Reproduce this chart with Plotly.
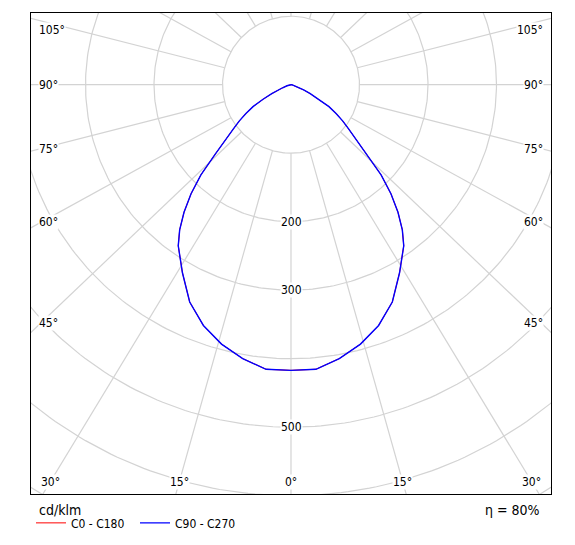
import numpy as np
import plotly.graph_objects as go

# luminous intensity distribution (symmetric luminaire)
gamma = [0, 5, 10, 15, 20, 25, 30, 35, 37.5, 40, 42.5, 45, 47.5, 50, 52.5,
         55, 57.5, 60, 62.5, 65, 67.5, 70, 75, 80, 85, 90]
c0_c180 = [417, 417, 406, 392, 374, 350, 317, 287, 267, 243, 216, 186, 150, 126, 106,
           92, 78, 64, 46, 31, 20, 13, 6, 2, 1, 0]
c90_c270 = [417, 417, 406, 392, 374, 350, 317, 287, 267, 243, 216, 186, 150, 126, 106,
            92, 78, 64, 46, 31, 20, 13, 6, 2, 1, 0]

ring_values = [100, 200, 300, 400, 500, 600, 700]
ring_labels = [200, 300, 500]
spoke_angles = list(range(0, 360, 15))
side_angle_labels = [105, 90, 75, 60, 45]
bottom_angle_labels = [30, 15, 0]
efficiency = "80%"
unit = "cd/klm"

FONT = "DejaVu Sans Condensed, Liberation Sans, sans-serif"
GRID = "rgb(211,211,211)"
XR = (-379.6, 379.6)
YR = (-597.5, 104.7)
KX = 1.05  # spokes are drawn a little wider than true angle in the original


def to_xy(angles_deg, values):
    # gamma 0 points down, positive angles to the right (C90), negative left (C270)
    a = np.radians(angles_deg)
    v = np.asarray(values, dtype=float)
    return v * np.sin(a), -v * np.cos(a)


def half_plane(values):
    ang = [-g for g in gamma[::-1]] + gamma[1:]
    val = list(values[::-1]) + list(values[1:])
    return to_xy(ang, val)


def spoke_dir(theta):
    t = np.radians(theta)
    phi = np.arctan2(KX * np.sin(t), np.cos(t))
    return np.sin(phi), -np.cos(phi)


# grid: rings + spokes starting at the innermost ring
gx, gy = [], []
t = np.linspace(0, 360, 361)
for r in ring_values:
    x, y = to_xy(t, [r] * len(t))
    gx += list(x) + [None]
    gy += list(y) + [None]
for a in spoke_angles:
    dx, dy = spoke_dir(a)
    gx += [ring_values[0] * dx, 1200 * dx, None]
    gy += [ring_values[0] * dy, 1200 * dy, None]

fig = go.Figure()
fig.add_trace(go.Scatter(x=gx, y=gy, mode="lines", line=dict(color=GRID, width=1.2),
                         hoverinfo="skip", showlegend=False))

# C0-C180 sits under the identical C90-C270 curve
x0, y0 = half_plane(c0_c180)
fig.add_trace(go.Scatter(x=x0, y=y0, mode="lines", name="C0 - C180",
                         line=dict(color="red", width=1.0)))
x1, y1 = half_plane(c90_c270)
fig.add_trace(go.Scatter(x=x1, y=y1, mode="lines", name="C90 - C270",
                         line=dict(color="blue", width=1.4)))

annotations = []
lab = dict(showarrow=False, bgcolor="white", borderpad=0,
           font=dict(family=FONT, size=12, color="black"))

for r in ring_labels:
    annotations.append(dict(x=0, y=-r, text=str(r), xanchor="center", yanchor="middle", **lab))

# angle labels on the left/right edges
for a in side_angle_labels:
    dx, dy = spoke_dir(a)
    y = -365 * (-dy / dx)
    y = min(y, 80)
    annotations.append(dict(x=-369, y=y, text=f"{a}°", xanchor="left", yanchor="middle", **lab))
    annotations.append(dict(x=369, y=y, text=f"{a}°", xanchor="right", yanchor="middle", **lab))

# angle labels along the bottom edge
for a in bottom_angle_labels:
    dx, dy = spoke_dir(a)
    x = 580 * dx / -dy
    for sx in ([1] if a == 0 else [-1, 1]):
        annotations.append(dict(x=sx * x, y=-580, text=f"{a}°", xanchor="center",
                                yanchor="middle", **lab))

annotations.append(dict(xref="paper", yref="paper", x=0.011, y=-0.033, text=unit,
                        showarrow=False, xanchor="left", yanchor="middle",
                        font=dict(family=FONT, size=14, color="black")))
annotations.append(dict(xref="paper", yref="paper", x=0.983, y=-0.033,
                        text=f"η = {efficiency}", showarrow=False, xanchor="right",
                        yanchor="middle", font=dict(family=FONT, size=14, color="black")))

axis = dict(showgrid=False, zeroline=False, showticklabels=False, ticks="",
            showline=True, mirror=True, linecolor="black", linewidth=1)

# page body keeps its default 8px margin, so the figure is 16px smaller
fig.update_layout(
    width=559, height=529,
    margin=dict(l=23, r=16, t=5, b=43, autoexpand=False),
    paper_bgcolor="white", plot_bgcolor="white",
    xaxis=dict(range=list(XR), **axis),
    yaxis=dict(range=list(YR), **axis),
    annotations=annotations,
    showlegend=True,
    legend=dict(orientation="h", x=0, y=-0.06, xanchor="left", yanchor="middle",
                font=dict(family=FONT, size=12, color="black"),
                bgcolor="rgba(0,0,0,0)", entrywidth=59, itemwidth=30),
)

fig.write_html("out.html")
